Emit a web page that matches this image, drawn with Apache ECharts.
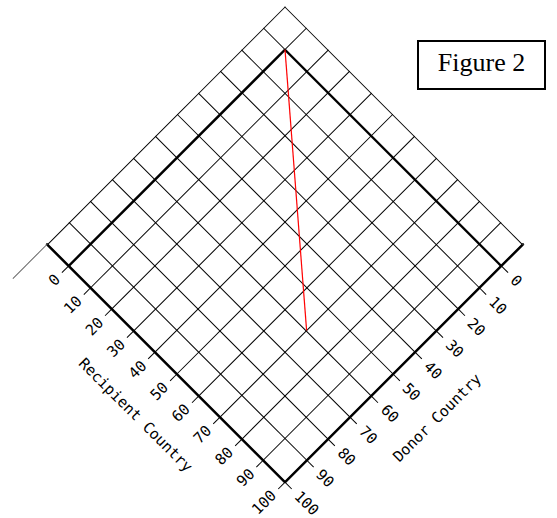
<!DOCTYPE html>
<html><head><meta charset="utf-8">
<script src="https://cdn.jsdelivr.net/npm/echarts@6/dist/echarts.min.js"></script>
<style>
html,body{margin:0;padding:0;width:557px;height:518px;overflow:hidden;background:#fff;}
#rot{position:absolute;left:-15px;top:-55.6px;width:600px;height:600px;transform:rotate(45deg);transform-origin:50% 50%;}
#overlay{position:absolute;left:0;top:0;width:557px;height:518px;pointer-events:none;}
</style></head><body>
<div id="rot"></div><div id="overlay"></div>
<script>
// ---- data ----
const recipientTicks = [0, 10, 20, 30, 40, 50, 60, 70, 80, 90, 100];
const donorTicks = [0, 10, 20, 30, 40, 50, 60, 70, 80, 90, 100];
const outerMin = -10, innerMin = 0, axisMax = 100, step = 10, tailEnd = 116;
const redRecipient = [0, 70];
const redDonor = [0, 60];
const recipientName = 'Recipient Country';
const donorName = 'Donor Country';
const figureTitle = 'Figure 2';

// ---- layout ----
const G0 = {left: 132, top: 132, size: 336};
const unitPx = G0.size / (axisMax - outerMin);
const G1 = {left: G0.left + (innerMin - outerMin) * unitPx, top: G0.top + (innerMin - outerMin) * unitPx, size: (axisMax - innerMin) * unitPx};
const mono = 'DejaVu Sans Mono';
const thick = {color: '#000', width: 2.5};
const thin = {color: '#000', width: 1};

const mainChart = echarts.init(document.getElementById('rot'), null, {renderer: 'svg', width: 600, height: 600});
const lineSeries = (data, xi, style, extra) => Object.assign({
  type: 'line', xAxisIndex: xi, yAxisIndex: xi, data: data, symbol: 'none',
  lineStyle: style, silent: true, animation: false
}, extra || {});

mainChart.setOption({
  animation: false,
  backgroundColor: 'transparent',
  grid: [
    {left: G0.left, top: G0.top, width: G0.size, height: G0.size},
    {left: G1.left, top: G1.top, width: G1.size, height: G1.size}
  ],
  xAxis: [
    {gridIndex: 0, type: 'value', min: outerMin, max: axisMax, interval: step, position: 'bottom',
     axisLine: {show: true, onZero: false, lineStyle: thick}, axisTick: {show: false}, axisLabel: {show: false},
     splitLine: {show: true, lineStyle: thin}},
    {gridIndex: 1, type: 'value', min: innerMin, max: axisMax, interval: step, position: 'bottom',
     axisLine: {show: false, onZero: false},
     axisTick: {show: true, length: 10, customValues: recipientTicks, lineStyle: {color: '#000', width: 1}},
     axisLabel: {show: true, rotate: 90, margin: 16, customValues: recipientTicks, fontFamily: mono, fontSize: 15, color: '#000'},
     splitLine: {show: false},
     name: recipientName, nameLocation: 'middle', nameGap: 46,
     nameTextStyle: {fontFamily: mono, fontSize: 15, color: '#000'}}
  ],
  yAxis: [
    {gridIndex: 0, type: 'value', inverse: true, min: outerMin, max: axisMax, interval: step, position: 'right',
     axisLine: {show: true, onZero: false, lineStyle: thick}, axisTick: {show: false}, axisLabel: {show: false},
     splitLine: {show: true, lineStyle: thin}},
    {gridIndex: 1, type: 'value', inverse: true, min: innerMin, max: axisMax, interval: step, position: 'right',
     axisLine: {show: false, onZero: false},
     axisTick: {show: true, length: 10, customValues: donorTicks, lineStyle: {color: '#000', width: 1}},
     axisLabel: {show: true, rotate: 0, margin: 17, customValues: donorTicks, fontFamily: mono, fontSize: 15, color: '#000'},
     splitLine: {show: false},
     name: donorName, nameLocation: 'middle', nameGap: 46, nameRotate: 90,
     nameTextStyle: {fontFamily: mono, fontSize: 15, color: '#000'}}
  ],
  series: [
    lineSeries([[innerMin, innerMin], [innerMin, axisMax]], 1, thick),
    lineSeries([[innerMin, innerMin], [axisMax, innerMin]], 1, thick),
    lineSeries([[outerMin, axisMax], [outerMin, tailEnd]], 0, {color: '#666', width: 1}, {clip: false}),
    lineSeries([[axisMax, outerMin], [tailEnd, outerMin]], 0, {color: '#666', width: 1}, {clip: false}),
    lineSeries(redRecipient.map((r, i) => [r, redDonor[i]]), 1, {color: '#ff0000', width: 1.2}, {z: 10})
  ]
});

const overlayChart = echarts.init(document.getElementById('overlay'), null, {renderer: 'svg', width: 557, height: 518});
overlayChart.setOption({
  animation: false,
  graphic: [
    {type: 'rect', shape: {x: 418, y: 41, width: 127, height: 48}, style: {fill: '#fff', stroke: '#000', lineWidth: 2}},
    {type: 'text', x: 481.5, y: 62, style: {text: figureTitle, fontFamily: 'Liberation Serif', fontSize: 26, fill: '#000', align: 'center', verticalAlign: 'middle'}}
  ]
});
</script>
</body></html>
